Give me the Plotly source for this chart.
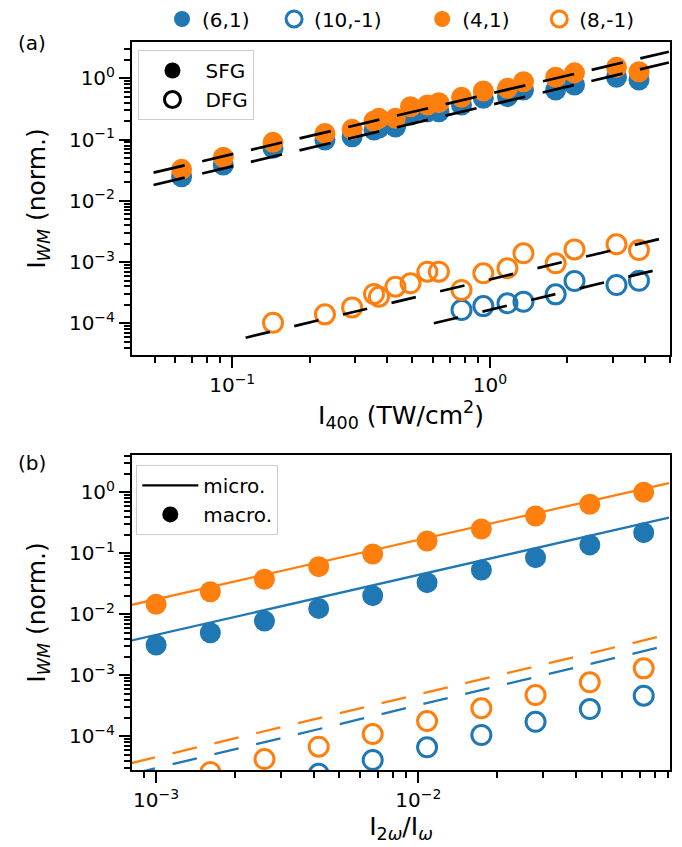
import numpy as np
import plotly.graph_objects as go

BLUE = "#1f77b4"
ORANGE = "#ff7f0e"

# ---------------- panel (a) data ----------------
i400 = [0.0636, 0.0923, 0.144, 0.229, 0.292, 0.355, 0.371, 0.430, 0.492, 0.572,
        0.634, 0.776, 0.943, 1.17, 1.35, 1.80, 2.13, 3.10, 3.79]
sfg_41 = [0.0327, 0.0513, 0.0902, 0.126, 0.147, 0.201, 0.222, 0.222, 0.344, 0.366,
          0.400, 0.490, 0.621, 0.687, 0.879, 1.04, 1.23, 1.51, 1.28]
sfg_61 = [0.0247, 0.0384, 0.0720, 0.0983, 0.111, 0.143, 0.154, 0.160, 0.252, 0.285,
          0.285, 0.366, 0.471, 0.501, 0.644, 0.644, 0.778, 1.04, 0.938]
i400_dfg81 = i400[2:]
dfg_81 = [1.02e-4, 1.40e-4, 1.82e-4, 3.01e-4, 2.72e-4, 3.96e-4, 4.50e-4, 6.96e-4, 6.96e-4,
          3.50e-4, 6.55e-4, 7.91e-4, 1.39e-3, 9.55e-4, 1.61e-3, 1.95e-3, 1.57e-3]
i400_dfg101 = i400[11:]
dfg_101 = [1.65e-4, 1.91e-4, 2.12e-4, 2.25e-4, 2.97e-4, 4.91e-4, 4.22e-4, 4.96e-4]

fit_x_sfg = [0.0495, 4.95]
fit_41 = [0.0288, 2.72]
fit_61 = [0.0181, 1.81]
fit_x_81 = [0.1127, 4.95]
fit_81 = [5.82e-5, 2.59e-3]
fit_x_101 = [0.606, 4.53]
fit_101 = [1.0e-4, 7.62e-4]

# ---------------- panel (b) data ----------------
ratio = [1.0e-3, 1.61e-3, 2.59e-3, 4.17e-3, 6.70e-3, 1.08e-2, 1.74e-2, 2.80e-2, 4.51e-2, 7.24e-2]
macro_41 = [0.0146, 0.0234, 0.0375, 0.0603, 0.0974, 0.159, 0.250, 0.409, 0.636, 1.0]
macro_61 = [3.14e-3, 4.99e-3, 7.76e-3, 0.0125, 0.0202, 0.0330, 0.0532, 0.0847, 0.137, 0.218]
macro_81 = [1.6e-5, 2.6e-5, 4.24e-5, 6.76e-5, 1.09e-4, 1.78e-4, 2.88e-4, 4.75e-4, 7.67e-4, 1.30e-3]
macro_101 = [5.9e-6, 9.5e-6, 1.5e-5, 2.43e-5, 4.09e-5, 6.6e-5, 1.05e-4, 1.73e-4, 2.80e-4, 4.63e-4]

micro_x = [8.0e-4, 0.0904]
micro_41 = [0.0142, 1.41]
micro_61 = [3.69e-3, 0.383]
micro_81 = [3.61e-5, 4.70e-3]
micro_101 = [2.39e-5, 3.14e-3]

# tick labels
y_tickvals = [1e-4, 1e-3, 1e-2, 1e-1, 1e0]
y_ticktext = ["10<sup>\u22124</sup>", "10<sup>\u22123</sup>", "10<sup>\u22122</sup>",
              "10<sup>\u22121</sup>", "10<sup>0</sup>"]
xa_tickvals = [1e-1, 1e0]
xa_ticktext = ["10<sup>\u22121</sup>", "10<sup>0</sup>"]
xb_tickvals = [1e-3, 1e-2]
xb_ticktext = ["10<sup>\u22123</sup>", "10<sup>\u22122</sup>"]

FONT = "DejaVu Sans"
FILLED = 21
OPEN = 19
OPEN_LW = 3

fig = go.Figure()

def filled(x, y, color, xa, ya, name=None, legend=None, show=False):
    return go.Scatter(x=x, y=y, mode="markers", xaxis=xa, yaxis=ya,
                      marker=dict(size=FILLED, color=color, symbol="circle",
                                  line=dict(width=0)),
                      name=name, showlegend=show, legend=legend)

def opened(x, y, color, xa, ya, name=None, legend=None, show=False):
    return go.Scatter(x=x, y=y, mode="markers", xaxis=xa, yaxis=ya,
                      marker=dict(size=OPEN, color=color, symbol="circle-open",
                                  line=dict(width=OPEN_LW, color=color)),
                      name=name, showlegend=show, legend=legend)

# panel (a)
fig.add_trace(filled(i400, sfg_61, BLUE, "x", "y", "(6,1)", "legend", True))
fig.add_trace(opened(i400_dfg101, dfg_101, BLUE, "x", "y", "(10,-1)", "legend4", True))
fig.add_trace(filled(i400, sfg_41, ORANGE, "x", "y", "(4,1)", "legend5", True))
fig.add_trace(opened(i400_dfg81, dfg_81, ORANGE, "x", "y", "(8,-1)", "legend6", True))

for fx, fy, dash in [(fit_x_sfg, fit_41, "32px,18px"), (fit_x_sfg, fit_61, "32px,18px"),
                     (fit_x_81, fit_81, "25px,25px"), (fit_x_101, fit_101, "25px,25px")]:
    fig.add_trace(go.Scatter(x=fx, y=fy, mode="lines", xaxis="x", yaxis="y",
                             line=dict(color="black", width=2.7, dash=dash),
                             showlegend=False))

# panel (a) legend entries
fig.add_trace(go.Scatter(x=[None], y=[None], mode="markers", xaxis="x", yaxis="y",
                         marker=dict(size=FILLED, color="black"), name="SFG",
                         legend="legend2", showlegend=True))
fig.add_trace(go.Scatter(x=[None], y=[None], mode="markers", xaxis="x", yaxis="y",
                         marker=dict(size=OPEN, color="black", symbol="circle-open",
                                     line=dict(width=OPEN_LW, color="black")),
                         name="DFG", legend="legend2", showlegend=True))

# panel (b)
fig.add_trace(go.Scatter(x=micro_x, y=micro_41, mode="lines", xaxis="x2", yaxis="y2",
                         line=dict(color=ORANGE, width=2.3), showlegend=False))
fig.add_trace(go.Scatter(x=micro_x, y=micro_61, mode="lines", xaxis="x2", yaxis="y2",
                         line=dict(color=BLUE, width=2.3), showlegend=False))
fig.add_trace(go.Scatter(x=micro_x, y=micro_81, mode="lines", xaxis="x2", yaxis="y2",
                         line=dict(color=ORANGE, width=2.3, dash="25px,18px"), showlegend=False))
fig.add_trace(go.Scatter(x=micro_x, y=micro_101, mode="lines", xaxis="x2", yaxis="y2",
                         line=dict(color=BLUE, width=2.3, dash="25px,18px"), showlegend=False))
fig.add_trace(filled(ratio, macro_41, ORANGE, "x2", "y2"))
fig.add_trace(filled(ratio, macro_61, BLUE, "x2", "y2"))
fig.add_trace(opened(ratio, macro_81, ORANGE, "x2", "y2"))
fig.add_trace(opened(ratio, macro_101, BLUE, "x2", "y2"))

fig.add_trace(go.Scatter(x=[None], y=[None], mode="lines", xaxis="x2", yaxis="y2",
                         line=dict(color="black", width=2.3), name="micro.",
                         legend="legend3", showlegend=True))
fig.add_trace(go.Scatter(x=[None], y=[None], mode="markers", xaxis="x2", yaxis="y2",
                         marker=dict(size=FILLED, color="black"), name="macro.",
                         legend="legend3", showlegend=True))

def minor_vals(lo_exp, hi_exp):
    return [m * 10.0 ** e for e in range(lo_exp, hi_exp + 1) for m in range(2, 10)]

axis_common = dict(type="log", showline=True, linecolor="black", linewidth=2,
                   mirror=True, showgrid=False, zeroline=False, ticks="outside",
                   ticklen=11, tickwidth=2, tickcolor="black",
                   tickfont=dict(family=FONT, size=20, color="black"))

top_legend = dict(y=1.0316, xanchor="left", yanchor="middle",
                  font=dict(family=FONT, size=20), bgcolor="rgba(0,0,0,0)", itemwidth=30)

# the page body adds an 8 px offset, so the figure is 8 px smaller on each axis
fig.update_layout(
    width=674, height=839,
    margin=dict(l=124, r=12, t=34, b=77, autoexpand=False),
    paper_bgcolor="white", plot_bgcolor="white",
    font=dict(family=FONT, color="black"),
    xaxis=dict(**axis_common, domain=[0, 1], anchor="y", automargin=False,
               range=[-1.389, 0.699], tickvals=xa_tickvals, ticktext=xa_ticktext,
               minor=dict(tickvals=minor_vals(-2, 0), ticks="outside", ticklen=6,
                          tickwidth=1.5, tickcolor="black", showgrid=False),
               title=dict(text="I<sub>400</sub> (TW/cm<sup>2</sup>)",
                          font=dict(family=FONT, size=25), standoff=6)),
    yaxis=dict(**axis_common, domain=[0.570, 1.0], anchor="x", automargin=False,
               range=[-4.518, 0.593], tickvals=y_tickvals, ticktext=y_ticktext,
               minor=dict(tickvals=minor_vals(-5, 0), ticks="outside", ticklen=6,
                          tickwidth=1.5, tickcolor="black", showgrid=False),
               title=dict(text="I<sub><i>WM</i></sub> (norm.)",
                          font=dict(family=FONT, size=25), standoff=16)),
    xaxis2=dict(**axis_common, domain=[0, 1], anchor="y2", automargin=False,
                range=[-3.092, -1.040], tickvals=xb_tickvals, ticktext=xb_ticktext,
                minor=dict(tickvals=minor_vals(-4, -2), ticks="outside", ticklen=6,
                           tickwidth=1.5, tickcolor="black", showgrid=False),
                title=dict(text="I<sub>2<i>\u03c9</i></sub>/I<sub><i>\u03c9</i></sub>",
                           font=dict(family=FONT, size=25), standoff=6)),
    yaxis2=dict(**axis_common, domain=[0, 0.4327], anchor="x2", automargin=False,
                range=[-4.552, 0.611], tickvals=y_tickvals, ticktext=y_ticktext,
                minor=dict(tickvals=minor_vals(-5, 0), ticks="outside", ticklen=6,
                           tickwidth=1.5, tickcolor="black", showgrid=False),
                title=dict(text="I<sub><i>WM</i></sub> (norm.)",
                           font=dict(family=FONT, size=25), standoff=16)),
    legend=dict(x=0.0558, **top_legend),
    legend4=dict(x=0.2641, **top_legend),
    legend5=dict(x=0.5394, **top_legend),
    legend6=dict(x=0.7571, **top_legend),
    legend2=dict(x=0.012, y=0.989, xanchor="left", yanchor="top",
                 font=dict(family=FONT, size=20), bgcolor="rgba(255,255,255,0.8)",
                 bordercolor="#cccccc", borderwidth=1, itemwidth=56),
    legend3=dict(x=0.008, y=0.419, xanchor="left", yanchor="top",
                 font=dict(family=FONT, size=20), bgcolor="rgba(255,255,255,0.8)",
                 bordercolor="#cccccc", borderwidth=1, itemwidth=56),
    annotations=[
        dict(text="(a)", x=-0.186, y=0.9986, xref="paper", yref="paper",
             showarrow=False, font=dict(family=FONT, size=20), xanchor="center", yanchor="middle"),
        dict(text="(b)", x=-0.186, y=0.4217, xref="paper", yref="paper",
             showarrow=False, font=dict(family=FONT, size=20), xanchor="center", yanchor="middle"),
    ],
)

fig.write_html("out.html")
